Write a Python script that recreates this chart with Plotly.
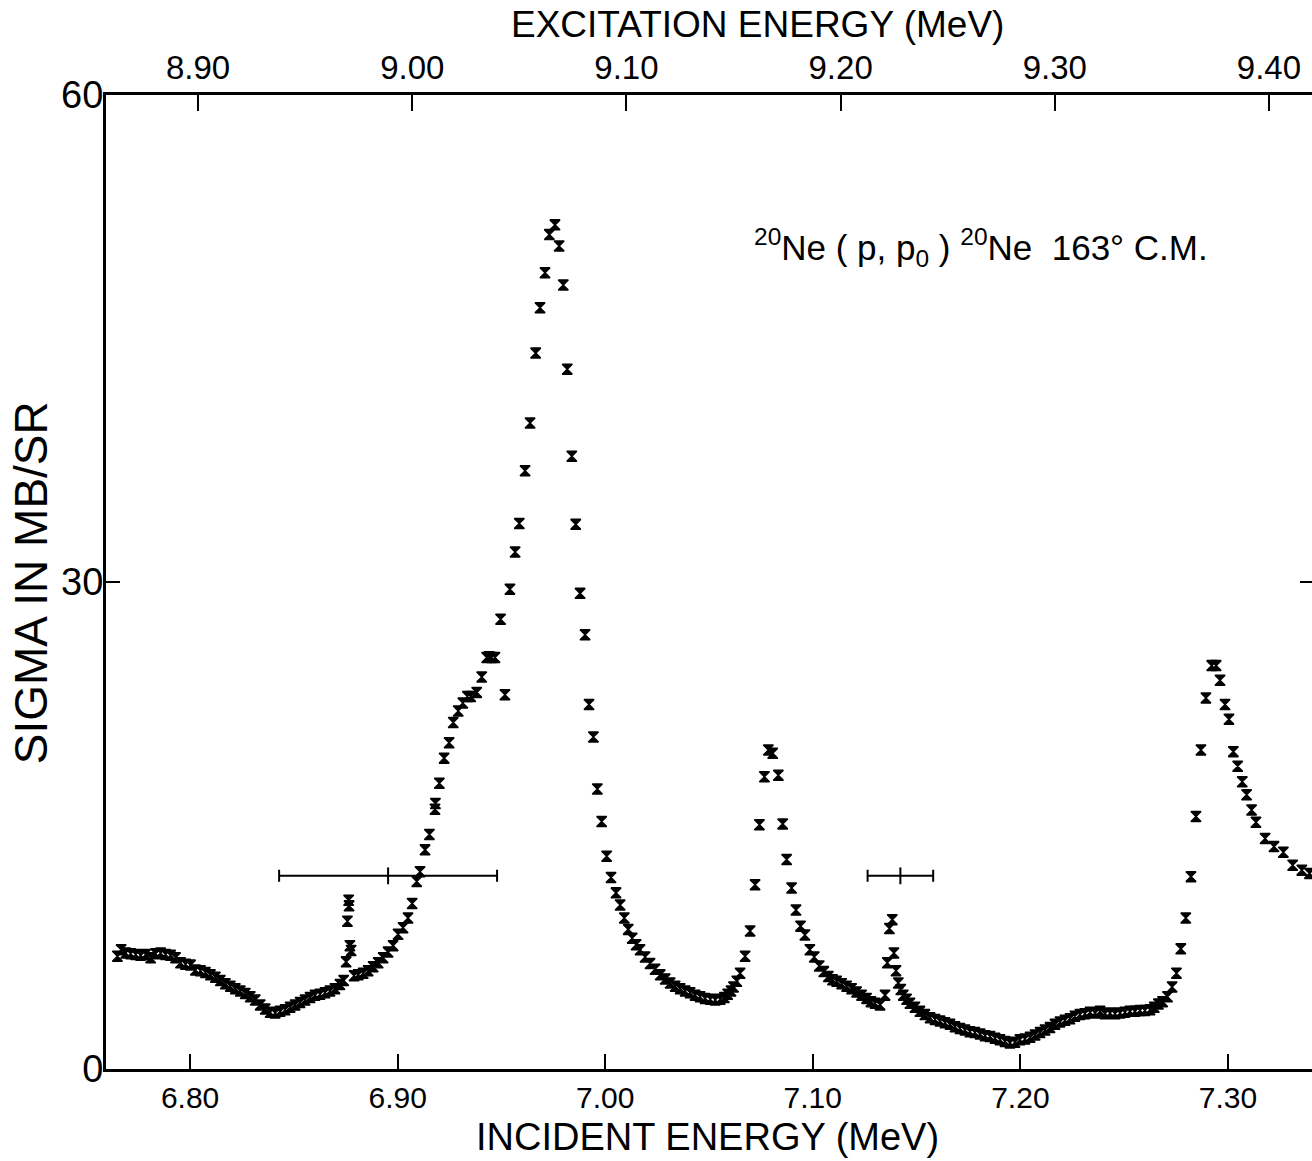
import plotly.graph_objects as go

# Incident proton energy (MeV) and cross section (mb/sr)
energy = [
    6.7650, 6.7668, 6.7690, 6.7714, 6.7738, 6.7762, 6.7786, 6.7810, 6.7834, 6.7858,
    6.7882, 6.7906, 6.7930, 6.7954, 6.7978, 6.8002, 6.8026, 6.8050, 6.8074, 6.8098,
    6.8122, 6.8146, 6.8170, 6.8194, 6.8218, 6.8242, 6.8266, 6.8290, 6.8314, 6.8338,
    6.8362, 6.8386, 6.8410, 6.8434, 6.8458, 6.8482, 6.8506, 6.8530, 6.8554, 6.8578,
    6.8602, 6.8626, 6.8650, 6.8674, 6.8698, 6.8722, 6.8740,
    6.8752, 6.8758, 6.8764, 6.8766, 6.8770, 6.8776,
    6.8790, 6.8810, 6.8834, 6.8858, 6.8882, 6.8906, 6.8930, 6.8954, 6.8978, 6.9002,
    6.9026, 6.9050, 6.9070, 6.9092, 6.9108, 6.9132, 6.9153, 6.9180, 6.9182, 6.9201,
    6.9224, 6.9248, 6.9268, 6.9292, 6.9314, 6.9336, 6.9352, 6.9381, 6.9405, 6.9429,
    6.9441, 6.9453, 6.9469, 6.9496, 6.9517, 6.9541, 6.9566, 6.9586, 6.9614, 6.9638,
    6.9665, 6.9686, 6.9710, 6.9731, 6.9758, 6.9778, 6.9798, 6.9817, 6.9839, 6.9858,
    6.9879, 6.9903, 6.9922, 6.9943, 6.9962, 6.9983, 7.0007, 7.0028, 7.0052, 7.0072,
    7.0092, 7.0111, 7.0130, 7.0149, 7.0168, 7.0192, 7.0216, 7.0240, 7.0265, 7.0289,
    7.0313, 7.0337, 7.0361, 7.0385, 7.0409, 7.0433, 7.0457, 7.0481, 7.0506, 7.0530,
    7.0554, 7.0574, 7.0590, 7.0606, 7.0618, 7.0634, 7.0650, 7.0674, 7.0698, 7.0722,
    7.0743, 7.0767, 7.0786, 7.0807, 7.0834, 7.0855, 7.0874, 7.0898, 7.0919, 7.0941,
    7.0962, 7.0986, 7.1007, 7.1031, 7.1053, 7.1075, 7.1095, 7.1115, 7.1139, 7.1163,
    7.1187, 7.1211, 7.1235, 7.1259, 7.1280, 7.1300, 7.1324, 7.1348, 7.1359, 7.1369,
    7.1383, 7.1391, 7.1401, 7.1412, 7.1424, 7.1436, 7.1452, 7.1468, 7.1492, 7.1516,
    7.1540, 7.1565, 7.1589, 7.1613, 7.1637, 7.1661, 7.1685, 7.1709, 7.1733, 7.1757,
    7.1781, 7.1806, 7.1830, 7.1854, 7.1878, 7.1902, 7.1926, 7.1950, 7.1974, 7.1998,
    7.2022, 7.2047, 7.2071, 7.2095, 7.2119, 7.2143, 7.2167, 7.2191, 7.2215, 7.2239,
    7.2263, 7.2287, 7.2311, 7.2336, 7.2360, 7.2384, 7.2408, 7.2432, 7.2456, 7.2480,
    7.2504, 7.2528, 7.2552, 7.2576, 7.2600, 7.2625, 7.2645, 7.2665, 7.2685, 7.2709,
    7.2731, 7.2752, 7.2773, 7.2797, 7.2822, 7.2846, 7.2870, 7.2894, 7.2922, 7.2943,
    7.2962, 7.2986, 7.3005, 7.3026, 7.3047, 7.3069, 7.3090, 7.3114, 7.3135, 7.3179,
    7.3222, 7.3267, 7.3312, 7.3356, 7.3393,
]
sigma = [
    6.95, 7.35, 7.15, 7.10, 7.05, 7.00, 7.05, 6.85, 7.10, 7.15,
    7.05, 7.00, 6.85, 6.55, 6.45, 6.40, 6.10, 6.05, 5.95, 5.80,
    5.65, 5.45, 5.25, 5.10, 4.95, 4.80, 4.65, 4.45, 4.25, 3.95,
    3.70, 3.50, 3.45, 3.55, 3.65, 3.80, 3.95, 4.10, 4.25, 4.40,
    4.55, 4.60, 4.70, 4.80, 4.95, 5.20, 5.45,
    6.60, 9.10, 10.40, 10.05, 7.60, 7.30,
    5.75, 5.80, 5.90, 6.05, 6.30, 6.55, 6.85, 7.20, 7.60, 8.30,
    8.70, 9.30, 10.20, 11.55, 12.15, 13.50, 14.45, 16.00, 16.35, 17.60,
    19.15, 20.10, 21.35, 22.05, 22.55, 22.95, 22.95, 23.20, 24.15, 25.35,
    25.40, 25.35, 25.35, 27.70, 23.05, 29.55, 31.85, 33.60, 36.85, 39.80,
    44.10, 46.90, 49.05, 51.40, 52.00, 50.70, 48.30, 43.10, 37.75, 33.55,
    29.30, 26.75, 22.45, 20.45, 17.25, 15.25, 13.10, 11.80, 10.85, 10.10,
    9.30, 8.60, 8.05, 7.65, 7.35, 6.90, 6.50, 6.15, 5.80, 5.55,
    5.30, 5.10, 4.95, 4.80, 4.70, 4.55, 4.45, 4.35, 4.30, 4.25,
    4.30, 4.40, 4.60, 4.80, 5.05, 5.40, 5.90, 6.95, 8.50, 11.35,
    15.05, 18.00, 19.65, 19.45, 18.10, 15.10, 12.90, 11.15, 9.80, 8.80,
    8.25, 7.35, 6.90, 6.35, 6.00, 5.70, 5.50, 5.40, 5.25, 5.10,
    4.95, 4.75, 4.55, 4.35, 4.15, 4.05, 3.95, 4.55, 6.55, 8.65,
    9.20, 7.15, 6.05, 5.30, 4.90, 4.55, 4.30, 4.05, 3.80, 3.55,
    3.35, 3.15, 3.05, 2.95, 2.85, 2.75, 2.60, 2.50, 2.40, 2.30,
    2.25, 2.15, 2.05, 2.00, 1.90, 1.80, 1.70, 1.60, 1.65, 1.80,
    1.85, 1.95, 2.10, 2.25, 2.40, 2.55, 2.75, 2.90, 3.00, 3.10,
    3.25, 3.35, 3.40, 3.50, 3.45, 3.55, 3.40, 3.45, 3.40, 3.45,
    3.50, 3.55, 3.55, 3.60, 3.60, 3.65, 3.80, 4.00, 4.15, 4.45,
    5.05, 5.90, 7.40, 9.30, 11.85, 15.55, 19.65, 22.85, 24.85, 24.85,
    23.95, 22.45, 21.55, 19.55, 18.65, 17.70, 16.90, 15.95, 15.20, 14.20,
    13.70, 13.35, 12.55, 12.25, 12.05,
]

# Energy-resolution bars (centre, half-width, level)
res_center = [6.8954, 7.1422]
res_half = [0.0525, 0.0158]
res_level = [11.9, 11.9]

bottom_ticks = [6.80, 6.90, 7.00, 7.10, 7.20, 7.30]
bottom_labels = ["6.80", "6.90", "7.00", "7.10", "7.20", "7.30"]
top_ticks = [8.90, 9.00, 9.10, 9.20, 9.30, 9.40]
top_labels = ["8.90", "9.00", "9.10", "9.20", "9.30", "9.40"]
y_ticks = [0, 30, 60]

FONT = "Liberation Sans"

fig = go.Figure()
fig.add_trace(go.Scatter(
    x=energy, y=sigma, mode="markers",
    marker=dict(symbol="hourglass", size=10, color="black",
                line=dict(color="black", width=1.5)),
    showlegend=False, hoverinfo="skip",
))
fig.add_trace(go.Scatter(
    x=res_center, y=res_level, mode="markers",
    marker=dict(symbol="line-ns-open", size=12, color="black",
                line=dict(color="black", width=2)),
    error_x=dict(type="data", array=res_half, color="black", thickness=2, width=6),
    showlegend=False, hoverinfo="skip",
))
# carrier for the top (excitation energy) axis
fig.add_trace(go.Scatter(
    x=top_ticks, y=[0] * len(top_ticks), xaxis="x2", mode="markers",
    marker=dict(opacity=0), showlegend=False, hoverinfo="skip",
))

fig.update_layout(
    width=1312, height=1161,
    margin=dict(l=106, r=0, t=95, b=92),
    paper_bgcolor="white", plot_bgcolor="white",
    font=dict(family=FONT, color="black"),
    xaxis=dict(
        range=[6.7595, 7.3405], tickvals=bottom_ticks, ticktext=bottom_labels,
        ticks="inside", ticklen=15, tickwidth=2, tickcolor="black",
        showline=True, linewidth=3, linecolor="black", showgrid=False, zeroline=False,
        tickfont=dict(size=30, family=FONT),
    ),
    xaxis2=dict(
        overlaying="x", side="top",
        range=[8.8570, 9.4201], tickvals=top_ticks, ticktext=top_labels,
        ticks="inside", ticklen=16, tickwidth=2, tickcolor="black",
        showline=True, linewidth=3, linecolor="black", showgrid=False, zeroline=False,
        tickfont=dict(size=33, family=FONT),
    ),
    yaxis=dict(
        range=[0, 60], tickvals=y_ticks, ticktext=["0", "30", "60"],
        ticks="inside", ticklen=14, tickwidth=2, tickcolor="black",
        showline=True, linewidth=3, linecolor="black", showgrid=False, zeroline=False,
        tickfont=dict(size=38, family=FONT), ticklabelstandoff=-8,
    ),
    annotations=[
        dict(text="EXCITATION ENERGY (MeV)", xref="paper", yref="paper",
             x=0.54, y=1.072, xanchor="center", yanchor="middle", showarrow=False,
             font=dict(size=37, family=FONT)),
        dict(text="INCIDENT ENERGY (MeV)", xref="paper", yref="paper",
             x=0.499, y=-0.0695, xanchor="center", yanchor="middle", showarrow=False,
             font=dict(size=38, family=FONT)),
        dict(text="SIGMA IN MB/SR", xref="paper", yref="paper",
             x=-0.062, y=0.499, xanchor="center", yanchor="middle", showarrow=False,
             textangle=-90, font=dict(size=46, family=FONT)),
        dict(text="<sup>20</sup>Ne ( p, p<sub>0</sub> ) <sup>20</sup>Ne  163° C.M.",
             xref="x", yref="y", x=7.0707, y=50.6, xanchor="left", yanchor="middle",
             showarrow=False, font=dict(size=35, family=FONT)),
    ],
    shapes=[
        dict(type="line", xref="paper", yref="y", x0=0.99, x1=1.0, y0=30, y1=30,
             line=dict(color="black", width=2)),
    ],
)

fig.write_html("out.html")
